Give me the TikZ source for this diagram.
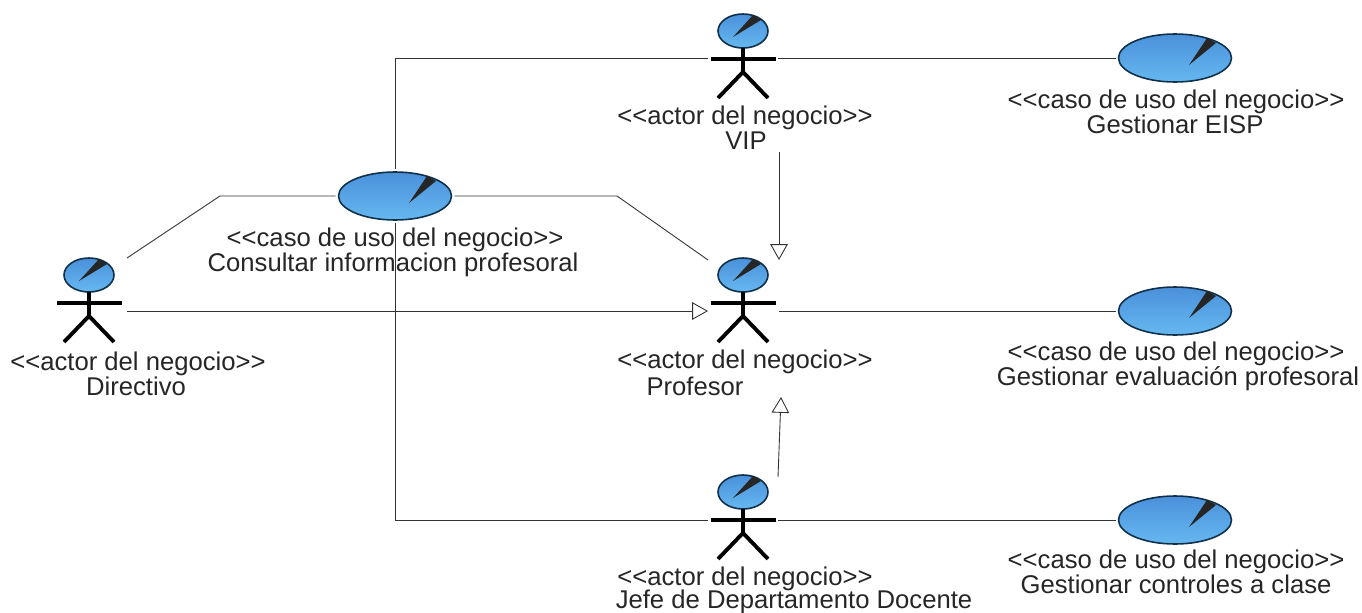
\documentclass[tikz,border=0pt]{standalone}
\usepackage{fontspec}
\setmainfont{Liberation Sans}
\usetikzlibrary{shapes.geometric,arrows.meta}
\definecolor{headblue}{HTML}{4A90DA}
\definecolor{headlight}{HTML}{66B8F0}
\definecolor{headline}{HTML}{10304A}
\newcommand{\pxu}{*0.02cm}
\newcommand{\stereo}[1]{<{}<#1>{}>}
\tikzset{
  label/.style={font=\fontsize{14.6}{16}\selectfont,inner sep=0pt,text=black!85,anchor=base},
  link/.style={draw=black!80,line width=0.5pt},
  general/.style={link,-{Triangle[open,fill=white,length=9pt,width=10pt]}},
  limb/.style={line width=2.2pt,draw=black},
  headnode/.style={ellipse,draw=headline,line width=0.9pt,top color=headblue,bottom color=headlight,
    minimum width=50\pxu,minimum height=34\pxu,inner sep=0pt},
  casenode/.style={headnode,minimum width=113\pxu,minimum height=48\pxu,outer sep=3\pxu},
}
% actor: name, x, y of the head
\newcommand{\actorfig}[3]{
  \node[headnode] (#1) at (#2,#3) {};
  \fill[black!85] (#2-10,#3+6)--(#2+18,#3-11)--(#2+10,#3-16)--cycle;
  \draw[limb] (#2-32,#3+28)--(#2+33,#3+28);
  \draw[limb] (#2,#3+17)--(#2,#3+41);
  \draw[limb] (#2-25,#3+67)--(#2,#3+41)--(#2+25,#3+67);
}
% use case: name, x, y
\newcommand{\casefig}[3]{
  \node[casenode] (#1) at (#2,#3) {};
  \fill[black!85] (#2+14,#3+7)--(#2+41,#3-15)--(#2+32,#3-20)--cycle;
}
\begin{document}
\begin{tikzpicture}[x=0.02cm,y=-0.02cm]
  \useasboundingbox (0,0) rectangle (1362,612);

  % connector ends
  \coordinate (vipL) at (708,58);
  \coordinate (vipR) at (778,58);
  \coordinate (vipB) at (779,152);
  \coordinate (busT) at (395,58);
  \coordinate (busB) at (395,520);
  \coordinate (jefeL) at (708,520);
  \coordinate (jefeR) at (778,520);
  \coordinate (jefeT) at (778,477);
  \coordinate (profT) at (779,260);
  \coordinate (profB) at (781,397);
  \coordinate (profL) at (708,311);
  \coordinate (profR) at (779,311);
  \coordinate (profN) at (708,260);
  \coordinate (dirR) at (127,311);
  \coordinate (dirN) at (127,258);
  \coordinate (bendL) at (220,196);
  \coordinate (bendR) at (617,196);

  \actorfig{vip}{743}{31}
  \actorfig{profesor}{743}{275}
  \actorfig{directivo}{89}{275}
  \actorfig{jefe}{743}{492}
  \casefig{consultar}{395}{196}
  \casefig{eisp}{1175}{58}
  \casefig{evaluacion}{1175}{311}
  \casefig{controles}{1175}{520}

  \draw[link] (vipL)--(busT)--(consultar.north);
  \draw[link] (consultar.south)--(busB)--(jefeL);
  \draw[link] (dirN)--(bendL)--(consultar.west);
  \draw[link] (consultar.east)--(bendR)--(profN);
  \draw[general] (dirR)--(profL);
  \draw[general] (vipB)--(profT);
  \draw[general] (jefeT)--(profB);
  \draw[link] (vipR)--(eisp.west);
  \draw[link] (profR)--(evaluacion.west);
  \draw[link] (jefeR)--(controles.west);

  \node[label] (vipS) at (745,124) {\stereo{actor del negocio}};
  \node[label] (vipT) at (746,149) {VIP};
  \node[label] (profS) at (745,368) {\stereo{actor del negocio}};
  \node[label] (profN2) at (695,395) {Profesor};
  \node[label] (dirS) at (138,370) {\stereo{actor del negocio}};
  \node[label] (dirT) at (136,395) {Directivo};
  \node[label] (jefeS) at (745,585) {\stereo{actor del negocio}};
  \node[label] (jefeN) at (794,608) {Jefe de Departamento Docente};
  \node[label] (conS) at (395,246) {\stereo{caso de uso del negocio}};
  \node[label] (conT) at (393,271) {Consultar informacion profesoral};
  \node[label] (eispS) at (1176,108) {\stereo{caso de uso del negocio}};
  \node[label] (eispT) at (1175,133) {Gestionar EISP};
  \node[label] (evaS) at (1176,360) {\stereo{caso de uso del negocio}};
  \node[label] (evaT) at (1178,385) {Gestionar evaluación profesoral};
  \node[label] (ctlS) at (1176,568) {\stereo{caso de uso del negocio}};
  \node[label] (ctlT) at (1176,593) {Gestionar controles a clase};
\end{tikzpicture}
\end{document}
